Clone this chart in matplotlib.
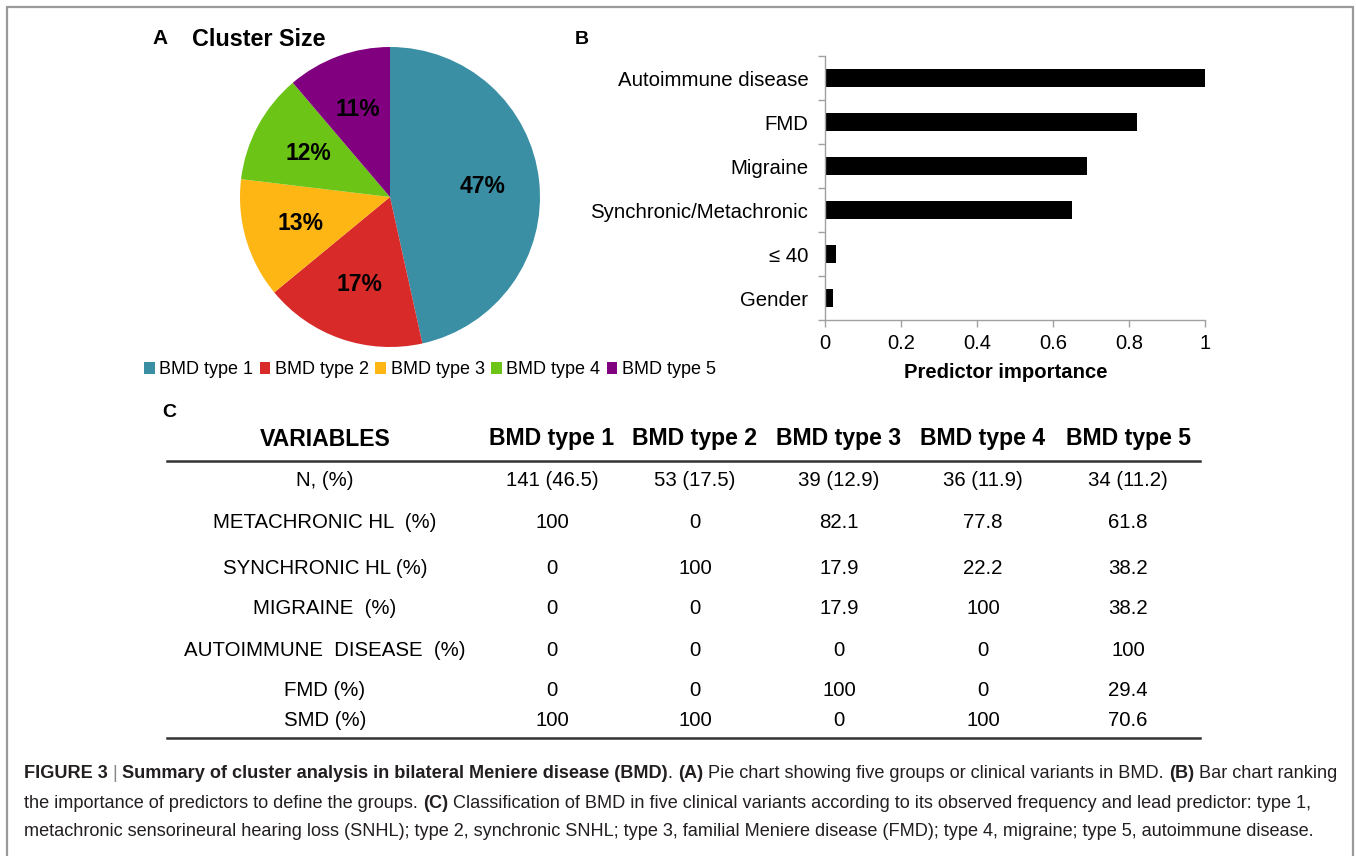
import matplotlib
matplotlib.use("Agg")
import matplotlib.pyplot as plt
from matplotlib.lines import Line2D
from matplotlib.patches import Rectangle, Patch

plt.rcParams['font.family'] = ['Liberation Sans', 'DejaVu Sans']

W, H = 1356, 856

# ---------------- data ----------------
cluster_labels = ["BMD type 1", "BMD type 2", "BMD type 3", "BMD type 4", "BMD type 5"]
cluster_counts = [141, 53, 39, 36, 34]
cluster_colors = ["#3A8FA5", "#D92A2A", "#FDB614", "#6CC516", "#800080"]

predictors = ["Autoimmune disease", "FMD", "Migraine", "Synchronic/Metachronic", "\u2264 40", "Gender"]
importance = [1.0, 0.82, 0.69, 0.65, 0.03, 0.02]
imp_ticks = [0, 0.2, 0.4, 0.6, 0.8, 1]
imp_ticklabels = ["0", "0.2", "0.4", "0.6", "0.8", "1"]

table_header = ["VARIABLES", "BMD type 1", "BMD type 2", "BMD type 3", "BMD type 4", "BMD type 5"]
table_rows = [
    ["N, (%)", "141 (46.5)", "53 (17.5)", "39 (12.9)", "36 (11.9)", "34 (11.2)"],
    ["METACHRONIC HL  (%)", "100", "0", "82.1", "77.8", "61.8"],
    ["SYNCHRONIC HL (%)", "0", "100", "17.9", "22.2", "38.2"],
    ["MIGRAINE  (%)", "0", "0", "17.9", "100", "38.2"],
    ["AUTOIMMUNE  DISEASE  (%)", "0", "0", "0", "0", "100"],
    ["FMD (%)", "0", "0", "100", "0", "29.4"],
    ["SMD (%)", "100", "100", "0", "100", "70.6"],
]

caption_lines = [
    [("FIGURE 3", "bold"), (" | ", "sep"), ("Summary of cluster analysis in bilateral Meniere disease (BMD)", "bold"),
     (". ", "normal"), ("(A)", "bold"), (" Pie chart showing five groups or clinical variants in BMD. ", "normal"),
     ("(B)", "bold"), (" Bar chart ranking", "normal")],
    [("the importance of predictors to define the groups. ", "normal"), ("(C)", "bold"),
     (" Classification of BMD in five clinical variants according to its observed frequency and lead predictor: type 1,", "normal")],
    [("metachronic sensorineural hearing loss (SNHL); type 2, synchronic SNHL; type 3, familial Meniere disease (FMD); type 4, migraine; type 5, autoimmune disease.", "normal")],
]

# ---------------- figure ----------------
fig = plt.figure(figsize=(W / 100, H / 100), dpi=100)
fig.patch.set_facecolor("white")


def fx(x):
    return x / W


def fy(y):
    return 1 - y / H


# outer frame
fig.patches.append(Rectangle((fx(7), fy(870)), fx(1353) - fx(7), fy(7) - fy(870),
                             transform=fig.transFigure, fill=False, edgecolor="#9a9a9a", lw=1.6))

# ---------------- Panel A: pie ----------------
fig.text(fx(152), fy(39), "A", fontsize=15, fontweight="bold", va="center", ha="left")
fig.text(fx(192), fy(39), "Cluster Size", fontsize=16.8, fontweight="bold", va="center", ha="left")

R = 150
cx, cy = 390, 197
axp = fig.add_axes([fx(cx - R), fy(cy + R), 2 * R / W, 2 * R / H])
wedges, texts, autotexts = axp.pie(
    cluster_counts, colors=cluster_colors, startangle=90, counterclock=False,
    autopct=lambda p: f"{p:.0f}%", pctdistance=0.62,
    textprops=dict(fontsize=16.5, fontweight="bold", color="black"),
    wedgeprops=dict(linewidth=0))
axp.set_xlim(-1, 1)
axp.set_ylim(-1, 1)
axp.set_aspect("equal")

handles = [Patch(facecolor=c, edgecolor="none") for c in cluster_colors]
fig.legend(handles, cluster_labels, loc="center", bbox_to_anchor=(fx(430), fy(370)), ncol=5,
           frameon=False, fontsize=13, handlelength=0.6, handleheight=0.6, handletextpad=0.25,
           columnspacing=0.35, borderpad=0)

# ---------------- Panel B: bars ----------------
fig.text(fx(575), fy(39), "B", fontsize=14, fontweight="bold", va="center", ha="left")
axb = fig.add_axes([fx(825), fy(320), (1205 - 825) / W, (320 - 56) / H])
ypos = list(range(len(predictors)))
axb.barh(ypos, importance, height=0.4, color="black")
axb.set_xlim(0, 1)
axb.set_ylim(len(predictors) - 0.5, -0.5)
axb.set_yticks(ypos)
axb.set_yticklabels(predictors, fontsize=14.7)
axb.set_yticks([i - 0.5 for i in range(len(predictors) + 1)], minor=True)
axb.tick_params(axis="y", which="major", length=0, pad=12)
axb.tick_params(axis="y", which="minor", length=5, color="#a0a0a0", width=1)
axb.set_xticks(imp_ticks)
axb.set_xticklabels(imp_ticklabels, fontsize=14.5)
axb.tick_params(axis="x", length=5, color="#a0a0a0", width=1, pad=5)
for s in ["top", "right"]:
    axb.spines[s].set_visible(False)
for s in ["left", "bottom"]:
    axb.spines[s].set_color("#a0a0a0")
    axb.spines[s].set_linewidth(1)
fig.text(fx(1006), fy(372), "Predictor importance", fontsize=14.6, fontweight="bold", ha="center", va="center")

# ---------------- Panel C: table ----------------
fig.text(fx(162), fy(413), "C", fontsize=14, fontweight="bold", va="center", ha="left")
col_x = [325, 552, 695, 839, 983, 1128]
row_y = [481, 523, 569, 609, 650, 691, 720]
for j, h in enumerate(table_header):
    fig.text(fx(col_x[j]), fy(439), h, fontsize=16.6, fontweight="bold", ha="center", va="center")
for i, row in enumerate(table_rows):
    for j, v in enumerate(row):
        fig.text(fx(col_x[j]), fy(row_y[i]), v, fontsize=14.7, ha="center", va="center")
for yy in (461, 738):
    fig.add_artist(Line2D([fx(167), fx(1200)], [fy(yy), fy(yy)], transform=fig.transFigure,
                          color="#333333", lw=1.8))

# ---------------- caption ----------------
renderer = fig.canvas.get_renderer()
cap_color = "#231F20"
cap_size = 13.1
line_y = [774, 803, 831]
for li, runs in enumerate(caption_lines):
    x = 24
    for txt, style in runs:
        if style == "sep":
            t = fig.text(fx(x), fy(line_y[li]), txt, fontsize=cap_size, color="#888888",
                         ha="left", va="center")
        else:
            t = fig.text(fx(x), fy(line_y[li]), txt, fontsize=cap_size, color=cap_color,
                         fontweight=style, ha="left", va="center")
        bb = t.get_window_extent(renderer=renderer)
        x += bb.width

fig.savefig("out.png", dpi=100)
